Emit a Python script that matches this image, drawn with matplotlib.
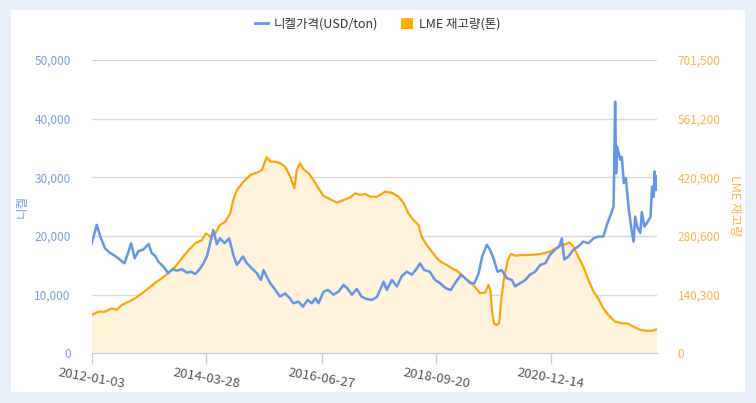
import matplotlib
matplotlib.use("Agg")
import matplotlib.pyplot as plt
import pandas as pd
from matplotlib.lines import Line2D
from matplotlib.patches import Patch, Rectangle
from matplotlib.ticker import FuncFormatter, FixedLocator

plt.rcParams['font.family'] = ['Noto Sans CJK KR', 'DejaVu Sans']

# 니켈 가격 (decimal year, USD/ton)
price_t = [2012.00, 2012.10, 2012.17, 2012.26, 2012.36, 2012.46, 2012.56, 2012.64, 2012.71, 2012.77,
           2012.84, 2012.91, 2013.01, 2013.11, 2013.17, 2013.24, 2013.30, 2013.40, 2013.49, 2013.58,
           2013.66, 2013.76, 2013.86, 2013.94, 2014.02, 2014.12, 2014.18, 2014.25, 2014.31, 2014.37,
           2014.44, 2014.50, 2014.59, 2014.68, 2014.76, 2014.83, 2014.95, 2015.02, 2015.12, 2015.22,
           2015.30, 2015.35, 2015.41, 2015.48, 2015.58, 2015.67, 2015.77, 2015.86, 2015.93, 2016.03,
           2016.12, 2016.21, 2016.29, 2016.36, 2016.42, 2016.52, 2016.61, 2016.71, 2016.81, 2016.91,
           2016.98, 2017.07, 2017.17, 2017.26, 2017.36, 2017.46, 2017.56, 2017.62, 2017.69, 2017.75,
           2017.85, 2017.95, 2018.04, 2018.14, 2018.24, 2018.34, 2018.40, 2018.48, 2018.59, 2018.69,
           2018.79, 2018.90, 2019.00, 2019.10, 2019.20, 2019.28, 2019.38, 2019.46, 2019.54, 2019.61,
           2019.70, 2019.76, 2019.83, 2019.91, 2019.99, 2020.09, 2020.19, 2020.25, 2020.35, 2020.45,
           2020.54, 2020.64, 2020.74, 2020.84, 2020.93, 2021.03, 2021.11, 2021.16, 2021.21, 2021.29,
           2021.39, 2021.48, 2021.58, 2021.68, 2021.78, 2021.87, 2021.97, 2022.05, 2022.10, 2022.17,
           2022.20, 2022.22, 2022.24, 2022.30, 2022.33, 2022.37, 2022.41, 2022.46, 2022.52, 2022.56,
           2022.59, 2022.63, 2022.69, 2022.72, 2022.77, 2022.82, 2022.89, 2022.92, 2022.95, 2022.97,
           2022.99, 2023.01]
price = [18700, 21900, 19900, 17900, 17100, 16600, 15900, 15350, 17100, 18770,
         16200, 17400, 17700, 18650, 17100, 16600, 15630, 14780, 13650, 14330,
         14100, 14330, 13750, 13900, 13500, 14500, 15350, 16600, 18770, 21030,
         18600, 19600, 18770, 19600, 16800, 15060, 16500, 15400, 14500, 13650,
         12500, 14200, 13100, 11940, 10800, 9660, 10200, 9400, 8530, 8800,
         7950, 9100, 8530, 9400, 8530, 10500, 10800, 10000, 10500, 11650,
         11100, 10000, 10950, 9660, 9250, 9100, 9600, 10800, 12200, 10800,
         12500, 11400, 13100, 13920, 13400, 14500, 15350, 14200, 13900, 12500,
         11940, 11100, 10800, 12200, 13400, 12800, 11940, 11940, 13650, 16500,
         18500, 17700, 16200, 13900, 14200, 12800, 12500, 11400, 11940, 12500,
         13400, 13900, 15060, 15350, 16770, 17700, 18200, 19600, 16000, 16500,
         17700, 18200, 19040, 18770, 19600, 19900, 19900, 22180, 23300, 25000,
         42900, 30700, 35250, 33000, 33500, 29000, 29850, 25000, 21030, 19040,
         23300, 21600, 20500, 24100, 21600, 22200, 23300, 28400, 26700, 31000,
         27800, 30200]

# LME 재고량 (decimal year, ton)
stock_t = [2012.00, 2012.13, 2012.26, 2012.39, 2012.49, 2012.59, 2012.72, 2012.85, 2012.98, 2013.11,
           2013.24, 2013.37, 2013.50, 2013.63, 2013.76, 2013.89, 2014.02, 2014.15, 2014.23, 2014.31,
           2014.41, 2014.50, 2014.60, 2014.70, 2014.76, 2014.83, 2014.96, 2015.09, 2015.22, 2015.32,
           2015.41, 2015.48, 2015.58, 2015.67, 2015.77, 2015.87, 2015.95, 2016.00, 2016.06, 2016.13,
           2016.23, 2016.32, 2016.42, 2016.52, 2016.65, 2016.78, 2016.91, 2017.04, 2017.14, 2017.23,
           2017.33, 2017.43, 2017.56, 2017.62, 2017.72, 2017.85, 2017.98, 2018.08, 2018.17, 2018.27,
           2018.37, 2018.43, 2018.53, 2018.63, 2018.73, 2018.82, 2018.92, 2019.02, 2019.12, 2019.21,
           2019.31, 2019.41, 2019.49, 2019.57, 2019.67, 2019.73, 2019.77, 2019.80, 2019.84, 2019.89,
           2019.94, 2019.98, 2020.04, 2020.11, 2020.17, 2020.25, 2020.38, 2020.54, 2020.74, 2020.93,
           2021.09, 2021.19, 2021.31, 2021.39, 2021.48, 2021.58, 2021.68, 2021.78, 2021.87, 2021.97,
           2022.07, 2022.20, 2022.33, 2022.43, 2022.56, 2022.69, 2022.82, 2022.92, 2023.01]
stock = [91600, 99500, 99500, 107600, 104000, 115500, 123400, 131600, 143500, 155500,
         168900, 179400, 192800, 207100, 227200, 247100, 263100, 271000, 287000, 279000,
         287000, 306900, 314000, 334900, 366700, 390600, 410500, 426500, 432000, 438500,
         468900, 459000, 458000, 455000, 446400, 422500, 394700, 438500, 454500, 440000,
         430600, 414500, 394700, 376300, 368400, 360300, 366700, 373100, 382700, 378900,
         381000, 374600, 374600, 378900, 386600, 384000, 374600, 358800, 334900, 318800,
         306900, 279000, 259000, 243000, 227200, 217700, 211200, 203300, 197600, 187300,
         175300, 167400, 155500, 143500, 145600, 163400, 151500, 103600, 71800, 67700,
         71800, 127500, 183300, 223200, 237500, 233500, 235000, 235000, 237500, 243000,
         255000, 259000, 265000, 255000, 231100, 207100, 175300, 147300, 131600, 107600,
         91600, 75600, 71800, 71800, 63700, 55700, 53800, 53800, 57000]

tick_labels = ['2012-01-03', '2014-03-28', '2016-06-27', '2018-09-20', '2020-12-14']
price_ticks = [0, 10000, 20000, 30000, 40000, 50000]
stock_ticks = [0, 140300, 280600, 420900, 561200, 701500]

BLUE = '#6495ED'
ORANGE = '#FFA500'

def to_year(s):
    d = pd.Timestamp(s)
    return d.year + (d.dayofyear - 1) / (366 if d.is_leap_year else 365)

fig = plt.figure(figsize=(7.56, 4.03), dpi=100)
fig.patch.set_facecolor('#e6eef7')
fig.patches.append(Rectangle((10.6 / 756, 1 - 392 / 403), (745 - 10.6) / 756, 382 / 403,
                             transform=fig.transFigure, facecolor='white', edgecolor='none', zorder=-1))

ax = fig.add_axes([91.6 / 756, 1 - 353.3 / 403, (656.7 - 91.6) / 756, 293.3 / 403])
ax2 = ax.twinx()
ax.set_zorder(ax2.get_zorder() + 1)
ax.patch.set_visible(False)
ax2.patch.set_visible(False)

# 재고량: 면적 + 선
ax2.fill_between(stock_t, stock, 0, color='#fff4db', lw=0, zorder=2)
ax2.plot(stock_t, stock, color=ORANGE, lw=1.6, zorder=3)
ax2.set_ylim(0, 701500)
ax2.yaxis.set_major_locator(FixedLocator(stock_ticks))
ax2.yaxis.set_major_formatter(FuncFormatter(lambda v, p: f'{int(v):,}'))
ax2.grid(axis='y', color='#d9d9d9', lw=1, zorder=0)
ax2.set_axisbelow(True)
ax2.tick_params(axis='y', length=0, pad=15, labelsize=8.5, labelcolor='#f5b84a')

# 니켈 가격
ax.plot(price_t, price, color=BLUE, lw=1.8, zorder=4)
ax.set_ylim(0, 50000)
ax.yaxis.set_major_locator(FixedLocator(price_ticks))
ax.yaxis.set_major_formatter(FuncFormatter(lambda v, p: f'{int(v):,}'))
ax.tick_params(axis='y', length=0, pad=15, labelsize=8.5, labelcolor='#7b9fd6')

ax.set_xlim(price_t[0], price_t[-1])
ax.set_xticks([to_year(s) for s in tick_labels])
ax.set_xticklabels(tick_labels, rotation=-10, ha='center')
ax.tick_params(axis='x', length=8, width=1, color='#cccccc', pad=1, labelsize=9.5, labelcolor='#555555')

for a in (ax, ax2):
    for side in ('left', 'right', 'top'):
        a.spines[side].set_visible(False)
    a.spines['bottom'].set_color('#cccccc')

fig.text(22 / 756, 1 - 206 / 403, '니켈', rotation=90, color='#7b9fd6', fontsize=9, ha='center', va='center')
fig.text(735 / 756, 1 - 206 / 403, 'LME 재고량', rotation=270, color='#f5b84a', fontsize=9, ha='center', va='center')

handles = [Line2D([], [], color=BLUE, lw=2), Patch(facecolor='#FFB000', edgecolor='none')]
fig.legend(handles, ['니켈가격(USD/ton)', 'LME 재고량(톤)'], loc='center', bbox_to_anchor=(0.5, 1 - 24 / 403),
           ncol=2, frameon=False, fontsize=9, handlelength=1.0, handleheight=1.0, handletextpad=0.5,
           columnspacing=1.8, labelcolor='#333333')

fig.savefig('out.png', dpi=100, facecolor=fig.get_facecolor())
